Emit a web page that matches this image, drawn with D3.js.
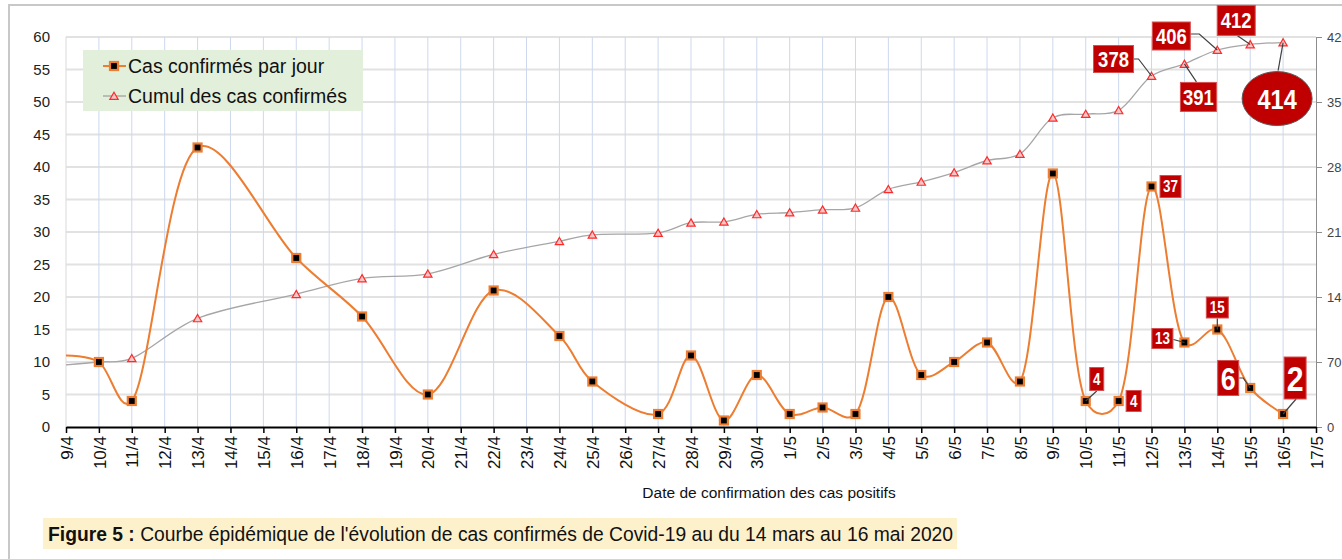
<!DOCTYPE html>
<html>
<head>
<meta charset="utf-8">
<script src="https://cdn.jsdelivr.net/npm/d3@7"></script>
<style>
  body { margin: 0; background: #fff; }
  svg { display: block; font-family: "Liberation Sans", Arial, sans-serif; }
</style>
</head>
<body>
<svg id="chart" width="1342" height="559"></svg>
<script>
// data
var dates = ["2020-04-09","2020-04-10","2020-04-11","2020-04-13","2020-04-16","2020-04-18","2020-04-20",
  "2020-04-22","2020-04-24","2020-04-25","2020-04-27","2020-04-28","2020-04-29","2020-04-30",
  "2020-05-01","2020-05-02","2020-05-03","2020-05-04","2020-05-05","2020-05-06","2020-05-07",
  "2020-05-08","2020-05-09","2020-05-10","2020-05-11","2020-05-12","2020-05-13","2020-05-14",
  "2020-05-15","2020-05-16"];
var dailyCases = [11,10,4,43,26,17,5,21,14,7,2,11,1,8,2,3,2,20,8,10,13,7,39,4,4,37,13,15,6,2];
var cumulCases = [67,70,74,117,143,160,165,186,200,207,209,220,221,229,231,234,236,256,264,274,287,294,333,337,341,378,391,406,412,414];
var leftTicks = [0,5,10,15,20,25,30,35,40,45,50,55,60];
var rightTicks = [0,70,140,210,280,350,420];
var legendLabels = ["Cas confirmés par jour", "Cumul des cas confirmés"];
var xTitle = "Date de confirmation des cas positifs";
var captionBold = "Figure 5 :";
var captionText = " Courbe épidémique de l'évolution de cas confirmés de Covid-19 au du 14 mars au 16 mai 2020";

// callouts: which point, and where the red box sits relative to it
var callouts = [
  {date:"2020-05-12", s:"cumul", dx:-38, dy:-17, w:40, h:27, fs:22, lead:[[20,0],[25,0]]},
  {date:"2020-05-13", s:"cumul", dx:14, dy:33, w:36, h:29, fs:22, lead:[[-2,-15]]},
  {date:"2020-05-14", s:"cumul", dx:-46, dy:-14, w:38, h:28, fs:22, lead:[[19,-2],[28,-2]]},
  {date:"2020-05-15", s:"cumul", dx:-14, dy:-24, w:38, h:30, fs:22, lead:[[1,15]]},
  {date:"2020-05-16", s:"cumul", dx:-6, dy:56, w:70, h:54, fs:28, ellipse:true, lead:[[1,-28]]},
  {date:"2020-05-12", s:"daily", dx:19, dy:0, w:21, h:22, fs:16, lead:[]},
  {date:"2020-05-13", s:"daily", dx:-22, dy:-4, w:21, h:20, fs:16, lead:[[11,1]]},
  {date:"2020-05-14", s:"daily", dx:0, dy:-22, w:22, h:21, fs:16, lead:[[0,11]]},
  {date:"2020-05-10", s:"daily", dx:11, dy:-22, w:14, h:23, fs:16, lead:[[0,12]]},
  {date:"2020-05-11", s:"daily", dx:15, dy:0, w:15, h:21, fs:16, lead:[]},
  {date:"2020-05-15", s:"daily", dx:-22, dy:-10, w:21, h:35, fs:32, lead:[[11,0],[15,0]]},
  {date:"2020-05-16", s:"daily", dx:12, dy:-36, w:22, h:42, fs:36, lead:[[1,21]]}
];

var svg = d3.select("#chart");
var parse = d3.utcParse("%Y-%m-%d");
var rows = dates.map((d, i) => ({key: d, date: parse(d), daily: dailyCases[i], cumul: cumulCases[i]}));

var plotL = 66, plotR = 1316, plotT = 37, plotB = 427;

var x = d3.scaleUtc().domain([parse("2020-04-09"), parse("2020-05-17")]).range([plotL, plotR]);
var yL = d3.scaleLinear().domain([0, 60]).range([plotB, plotT]);
var yR = d3.scaleLinear().domain([0, 420]).range([plotB, plotT]);
var days = d3.utcDay.range(parse("2020-04-09"), d3.utcDay.offset(parse("2020-05-17"), 1));

// outer frame
svg.append("path").attr("d", "M9,559V5H1342").attr("fill", "none").attr("stroke", "#c8c8c8").attr("stroke-width", 2);

// grid
svg.append("g").selectAll("line").data(leftTicks.slice(1)).join("line")
  .attr("x1", plotL).attr("x2", plotR).attr("y1", d => yL(d)).attr("y2", d => yL(d))
  .attr("stroke", "#e2e2e2").attr("stroke-width", 2);
svg.append("g").selectAll("line").data(days.slice(1, -1)).join("line")
  .attr("x1", d => x(d)).attr("x2", d => x(d)).attr("y1", plotT).attr("y2", plotB)
  .attr("stroke", "#cdd8ee").attr("stroke-width", 1);
svg.append("line").attr("x1", plotL).attr("x2", plotL).attr("y1", plotT).attr("y2", plotB)
  .attr("stroke", "#d9d9d9").attr("stroke-width", 1);

// left axis
var yLeftAxis = svg.append("g").attr("transform", `translate(${plotL},0)`)
  .call(d3.axisLeft(yL).tickValues(leftTicks).tickSize(0).tickPadding(16));
yLeftAxis.select(".domain").remove();
yLeftAxis.selectAll("text").attr("font-size", 15).attr("fill", "#222").style("font-family", "Liberation Sans, Arial");

// right axis
var yRightAxis = svg.append("g").attr("transform", `translate(${plotR},0)`)
  .call(d3.axisRight(yR).tickValues(rightTicks).tickSize(6).tickPadding(5).tickSizeOuter(0));
yRightAxis.select(".domain").attr("stroke", "#8c8c8c");
yRightAxis.selectAll(".tick line").attr("stroke", "#8c8c8c");
yRightAxis.selectAll("text").attr("font-size", 13).attr("fill", "#444").style("font-family", "Liberation Sans, Arial");

// bottom axis
var xAxis = svg.append("g").attr("transform", `translate(0,${plotB})`)
  .call(d3.axisBottom(x).tickValues(days).tickFormat(d3.utcFormat("%-d/%-m")).tickSize(6).tickSizeOuter(0));
xAxis.select(".domain").attr("stroke", "#000").attr("stroke-width", 2);
xAxis.selectAll(".tick line").attr("stroke", "#000").attr("stroke-width", 1.5);
xAxis.selectAll("text")
  .attr("transform", "rotate(-90)").attr("text-anchor", "end")
  .attr("x", -9).attr("y", 0).attr("dy", "0.36em")
  .attr("font-size", 17).attr("fill", "#111").style("font-family", "Liberation Sans, Arial");

svg.append("text").attr("x", 769).attr("y", 498).attr("text-anchor", "middle")
  .attr("font-size", 15.5).attr("fill", "#111").text(xTitle);

// lines, smoothed somewhere between uniform and centripetal to look like Excel's
var curve = d3.curveCatmullRom.alpha(0.25);
svg.append("path").datum(rows)
  .attr("fill", "none").attr("stroke", "#a6a6a6").attr("stroke-width", 1.3)
  .attr("d", d3.line().x(d => x(d.date)).y(d => yR(d.cumul)).curve(curve));
svg.append("path").datum(rows)
  .attr("fill", "none").attr("stroke", "#ed7d31").attr("stroke-width", 2)
  .attr("d", d3.line().x(d => x(d.date)).y(d => yL(d.daily)).curve(curve));

var tri = d3.symbol().type(d3.symbolTriangle).size(30);
function triangle(g) {
  g.attr("d", tri).attr("fill", "#f7c6c6").attr("stroke", "#ff2a2a").attr("stroke-width", 1.2);
}
function square(g) {
  g.attr("width", 8).attr("height", 8).attr("fill", "#000").attr("stroke", "#ed7d31").attr("stroke-width", 2.2);
}

svg.append("g").selectAll("path").data(rows.slice(1)).join("path")
  .attr("transform", d => `translate(${x(d.date)},${yR(d.cumul) + 1})`).call(triangle);
svg.append("g").selectAll("rect").data(rows.slice(1)).join("rect")
  .attr("x", d => x(d.date) - 4).attr("y", d => yL(d.daily) - 4).call(square);

// legend
var lg = svg.append("g");
lg.append("rect").attr("x", 83).attr("y", 50).attr("width", 280).attr("height", 61).attr("fill", "#e2efda");
lg.append("line").attr("x1", 103).attr("x2", 126).attr("y1", 66).attr("y2", 66).attr("stroke", "#ed7d31").attr("stroke-width", 2);
lg.append("rect").attr("x", 110).attr("y", 62).call(square);
lg.append("line").attr("x1", 103).attr("x2", 126).attr("y1", 96).attr("y2", 96).attr("stroke", "#8c8c8c").attr("stroke-width", 1);
lg.append("path").attr("transform", "translate(114,97)").call(triangle);
lg.selectAll("text").data(legendLabels).join("text")
  .attr("x", 128).attr("y", (d, i) => 73 + i * 30)
  .attr("font-size", 19.5).attr("fill", "#111").text(d => d);

// callouts
var byDate = new Map(rows.map(r => [r.key, r]));
var cg = svg.append("g");
callouts.forEach(c => {
  var r = byDate.get(c.date);
  var px = x(r.date), py = c.s === "cumul" ? yR(r.cumul) : yL(r.daily);
  var val = c.s === "cumul" ? r.cumul : r.daily;
  var cx = px + c.dx, cy = py + c.dy;
  if (c.lead.length) {
    var pts = c.lead.map(p => [cx + p[0], cy + p[1]]).concat([[px, py]]);
    cg.append("path").attr("d", d3.line()(pts)).attr("fill", "none").attr("stroke", "#404040").attr("stroke-width", 1.2);
  }
  if (c.ellipse) {
    cg.append("ellipse").attr("cx", cx).attr("cy", cy).attr("rx", c.w / 2).attr("ry", c.h / 2)
      .attr("fill", "#c00000").attr("stroke", "#595959").attr("stroke-width", 1);
  } else {
    cg.append("rect").attr("x", cx - c.w / 2).attr("y", cy - c.h / 2).attr("width", c.w).attr("height", c.h)
      .attr("fill", "#c00000").attr("stroke", "#d65050").attr("stroke-width", 1);
  }
  // narrow bold look: squeeze the text horizontally
  cg.append("text").attr("transform", `translate(${cx},${cy}) scale(0.84,1)`)
    .attr("dy", "0.36em").attr("text-anchor", "middle")
    .attr("font-size", c.fs).attr("font-weight", "bold").attr("fill", "#fff")
    .text(val);
});

// caption
svg.append("rect").attr("x", 43).attr("y", 518).attr("width", 914).attr("height", 31).attr("fill", "#fdf1cc");
var cap = svg.append("text").attr("x", 48).attr("y", 541).attr("font-size", 19.3).attr("fill", "#111");
cap.append("tspan").attr("font-weight", "bold").text(captionBold);
cap.append("tspan").text(captionText);
</script>
</body>
</html>
